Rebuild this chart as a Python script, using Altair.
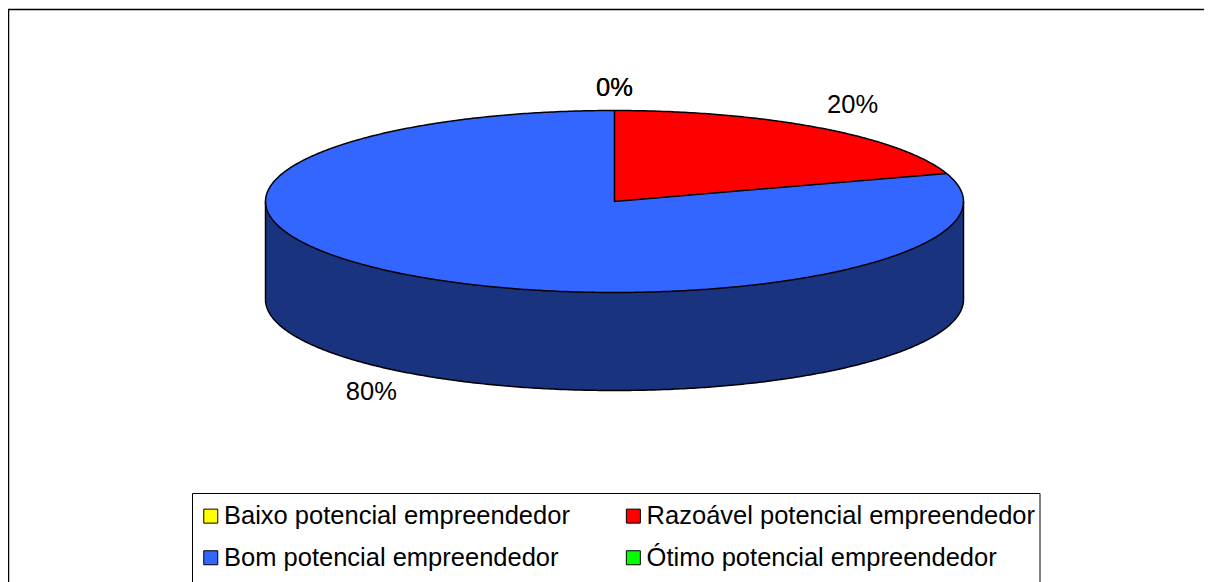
import numpy as np
import pandas as pd
import altair as alt

categories = ["Baixo potencial empreendedor", "Razoável potencial empreendedor",
              "Bom potencial empreendedor", "Ótimo potencial empreendedor"]
shares = [0, 20, 80, 0]
colors = ["#FFFF00", "#FF0000", "#3366FF", "#00FF00"]
side_color = "#19337F"

W, H = 1196, 574
RX, RY = 349.0, 91.0
CX, CY = 606.5, 193.5
DEPTH = 98.0 / RY

x_scale = alt.Scale(domain=[-CX / RX, (W - CX) / RX], nice=False, zero=False)
y_scale = alt.Scale(domain=[(CY - H) / RY, CY / RY], nice=False, zero=False)
X = alt.X("x:Q", scale=x_scale, axis=None)
Y = alt.Y("y:Q", scale=y_scale, axis=None)
COLOR = alt.Color("cat:N", scale=alt.Scale(domain=categories, range=colors), legend=alt.Legend(
    title=None, orient="none", legendX=190, legendY=495, columns=2, direction="horizontal",
    padding=0, symbolType="square", symbolSize=196, symbolStrokeColor="black", symbolStrokeWidth=1,
    labelFont="Liberation Sans", labelFontSize=25.5, labelColor="black", labelLimit=600, labelOffset=0.5,
    rowPadding=15, columnPadding=50.6, symbolOpacity=1))

# Sweep of the slices, clockwise from 12 o'clock, derived from the shares
red_end = np.deg2rad(360 * shares[1] / sum(shares))
t_half = np.linspace(-np.pi / 2, np.pi / 2, 361)

side = pd.DataFrame({"x": np.sin(t_half), "y": -np.cos(t_half), "y2": -np.cos(t_half) - DEPTH})
top = pd.DataFrame({"x": np.sin(t_half), "y": np.cos(t_half), "y2": -np.cos(t_half),
                    "cat": categories[2]})
t_red = np.linspace(0, red_end, 121)
red = pd.DataFrame({"x": np.sin(t_red), "y": np.cos(t_red),
                    "y2": np.sin(t_red) * np.cos(red_end) / np.sin(red_end),
                    "cat": categories[1]})

t_full = np.linspace(0, 2 * np.pi, 721)
outlines = pd.concat([
    pd.DataFrame({"g": "top", "o": range(721), "x": np.sin(t_full), "y": np.cos(t_full)}),
    pd.DataFrame({"g": "bottom", "o": range(361), "x": np.sin(t_half), "y": -np.cos(t_half) - DEPTH}),
    pd.DataFrame({"g": "left", "o": [0, 1], "x": [-1, -1], "y": [0, -DEPTH]}),
    pd.DataFrame({"g": "right", "o": [0, 1], "x": [1, 1], "y": [0, -DEPTH]}),
    pd.DataFrame({"g": "wedge", "o": [0, 1, 2], "x": [0, 0, np.sin(red_end)],
                  "y": [1, 0, np.cos(red_end)]}),
])

layers = [
    alt.Chart(side).mark_area(color=side_color).encode(x=X, y=Y, y2="y2:Q"),
    alt.Chart(top).mark_area().encode(x=X, y=Y, y2="y2:Q", color=COLOR),
    alt.Chart(red).mark_area().encode(x=X, y=Y, y2="y2:Q", color=COLOR),
    alt.Chart(outlines).mark_line(color="black", strokeWidth=1.5).encode(
        x=X, y=Y, detail="g:N", order="o:Q"),
]

# Percentage labels, anchored at each slice's mid-angle on the rim
acc = 0.0
for share, cat in zip(shares, categories):
    mid = np.deg2rad(360 * (acc + share / 2) / sum(shares))
    acc += share
    rim_y = np.cos(mid) - (DEPTH if np.cos(mid) < 0 else 0)
    dx, dy = (0, -23) if share == 0 else ((33, -23) if share == 20 else (-38, 19))
    if share == 0:
        mid = 0.0
        rim_y = 1.0
    lab = pd.DataFrame({"x": [np.sin(mid)], "y": [rim_y], "t": [f"{share}%"]})
    layers.append(alt.Chart(lab).mark_text(font="Liberation Sans", fontSize=25.5, color="black",
                                           dx=dx, dy=dy).encode(x=X, y=Y, text="t:N"))

blank = alt.Data(values=[{"a": 1}])
rule = lambda **k: alt.Chart(blank).mark_rule(color="black", strokeWidth=k.pop("sw", 1.5)).encode(**k)
layers += [
    rule(x=alt.value(0.5), y=alt.value(1.5), y2=alt.value(H)),
    rule(x=alt.value(0), x2=alt.value(W), y=alt.value(1.5)),
    rule(sw=1, x=alt.value(184.5), y=alt.value(485.5), y2=alt.value(H)),
    rule(sw=1, x=alt.value(1032), y=alt.value(485.5), y2=alt.value(H)),
    rule(sw=1, x=alt.value(184.5), x2=alt.value(1032), y=alt.value(485.5)),
]

chart = alt.layer(*layers).properties(
    width=W, height=H, padding=0, autosize=alt.AutoSizeParams(type="none"),
    background="white"
).configure_view(stroke=None)

chart.save("out.html", embed_options={"renderer": "svg", "actions": False})
